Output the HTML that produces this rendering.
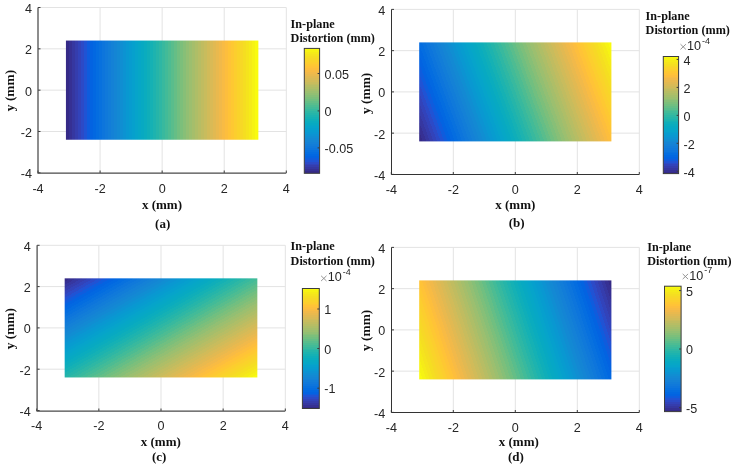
<!DOCTYPE html>
<html><head><meta charset="utf-8"><style>
html,body{margin:0;padding:0;background:#fff;width:735px;height:466px;overflow:hidden}
svg{display:block;filter:blur(0.4px)}
</style></head><body>
<svg width="735" height="466" viewBox="0 0 735 466">
<defs><linearGradient id="ga" gradientUnits="userSpaceOnUse" x1="65.934" y1="90.150" x2="258.366" y2="90.150"><stop offset="0.00000" stop-color="#352a87"/><stop offset="0.01562" stop-color="#352a87"/><stop offset="0.01562" stop-color="#363093"/><stop offset="0.03125" stop-color="#363093"/><stop offset="0.03125" stop-color="#3637a0"/><stop offset="0.04688" stop-color="#3637a0"/><stop offset="0.04688" stop-color="#353dad"/><stop offset="0.06250" stop-color="#353dad"/><stop offset="0.06250" stop-color="#3243ba"/><stop offset="0.07812" stop-color="#3243ba"/><stop offset="0.07812" stop-color="#2c4ac7"/><stop offset="0.09375" stop-color="#2c4ac7"/><stop offset="0.09375" stop-color="#2053d4"/><stop offset="0.10938" stop-color="#2053d4"/><stop offset="0.10938" stop-color="#0f5cdd"/><stop offset="0.12500" stop-color="#0f5cdd"/><stop offset="0.12500" stop-color="#0363e1"/><stop offset="0.14062" stop-color="#0363e1"/><stop offset="0.14062" stop-color="#0268e1"/><stop offset="0.15625" stop-color="#0268e1"/><stop offset="0.15625" stop-color="#046de0"/><stop offset="0.17188" stop-color="#046de0"/><stop offset="0.17188" stop-color="#0871de"/><stop offset="0.18750" stop-color="#0871de"/><stop offset="0.18750" stop-color="#0d75dc"/><stop offset="0.20312" stop-color="#0d75dc"/><stop offset="0.20312" stop-color="#1079da"/><stop offset="0.21875" stop-color="#1079da"/><stop offset="0.21875" stop-color="#127dd8"/><stop offset="0.23438" stop-color="#127dd8"/><stop offset="0.23438" stop-color="#1481d6"/><stop offset="0.25000" stop-color="#1481d6"/><stop offset="0.25000" stop-color="#1485d4"/><stop offset="0.26562" stop-color="#1485d4"/><stop offset="0.26562" stop-color="#1389d3"/><stop offset="0.28125" stop-color="#1389d3"/><stop offset="0.28125" stop-color="#108ed2"/><stop offset="0.29688" stop-color="#108ed2"/><stop offset="0.29688" stop-color="#0c93d2"/><stop offset="0.31250" stop-color="#0c93d2"/><stop offset="0.31250" stop-color="#0998d1"/><stop offset="0.32812" stop-color="#0998d1"/><stop offset="0.32812" stop-color="#079ccf"/><stop offset="0.34375" stop-color="#079ccf"/><stop offset="0.34375" stop-color="#06a0cd"/><stop offset="0.35938" stop-color="#06a0cd"/><stop offset="0.35938" stop-color="#06a4ca"/><stop offset="0.37500" stop-color="#06a4ca"/><stop offset="0.37500" stop-color="#06a7c6"/><stop offset="0.39062" stop-color="#06a7c6"/><stop offset="0.39062" stop-color="#07a9c2"/><stop offset="0.40625" stop-color="#07a9c2"/><stop offset="0.40625" stop-color="#0aacbe"/><stop offset="0.42188" stop-color="#0aacbe"/><stop offset="0.42188" stop-color="#0faeb9"/><stop offset="0.43750" stop-color="#0faeb9"/><stop offset="0.43750" stop-color="#15b1b4"/><stop offset="0.45312" stop-color="#15b1b4"/><stop offset="0.45312" stop-color="#1db3af"/><stop offset="0.46875" stop-color="#1db3af"/><stop offset="0.46875" stop-color="#25b5a9"/><stop offset="0.48438" stop-color="#25b5a9"/><stop offset="0.48438" stop-color="#2eb7a4"/><stop offset="0.50000" stop-color="#2eb7a4"/><stop offset="0.50000" stop-color="#38b99e"/><stop offset="0.51562" stop-color="#38b99e"/><stop offset="0.51562" stop-color="#42bb98"/><stop offset="0.53125" stop-color="#42bb98"/><stop offset="0.53125" stop-color="#4dbc92"/><stop offset="0.54688" stop-color="#4dbc92"/><stop offset="0.54688" stop-color="#59bd8c"/><stop offset="0.56250" stop-color="#59bd8c"/><stop offset="0.56250" stop-color="#65be86"/><stop offset="0.57812" stop-color="#65be86"/><stop offset="0.57812" stop-color="#71bf80"/><stop offset="0.59375" stop-color="#71bf80"/><stop offset="0.59375" stop-color="#7cbf7b"/><stop offset="0.60938" stop-color="#7cbf7b"/><stop offset="0.60938" stop-color="#87bf77"/><stop offset="0.62500" stop-color="#87bf77"/><stop offset="0.62500" stop-color="#92bf73"/><stop offset="0.64062" stop-color="#92bf73"/><stop offset="0.64062" stop-color="#9cbf6f"/><stop offset="0.65625" stop-color="#9cbf6f"/><stop offset="0.65625" stop-color="#a5be6b"/><stop offset="0.67188" stop-color="#a5be6b"/><stop offset="0.67188" stop-color="#aebe67"/><stop offset="0.68750" stop-color="#aebe67"/><stop offset="0.68750" stop-color="#b7bd64"/><stop offset="0.70312" stop-color="#b7bd64"/><stop offset="0.70312" stop-color="#c0bc60"/><stop offset="0.71875" stop-color="#c0bc60"/><stop offset="0.71875" stop-color="#c8bc5d"/><stop offset="0.73438" stop-color="#c8bc5d"/><stop offset="0.73438" stop-color="#d1bb59"/><stop offset="0.75000" stop-color="#d1bb59"/><stop offset="0.75000" stop-color="#d9ba56"/><stop offset="0.76562" stop-color="#d9ba56"/><stop offset="0.76562" stop-color="#e1b952"/><stop offset="0.78125" stop-color="#e1b952"/><stop offset="0.78125" stop-color="#e9b94e"/><stop offset="0.79688" stop-color="#e9b94e"/><stop offset="0.79688" stop-color="#f1b94a"/><stop offset="0.81250" stop-color="#f1b94a"/><stop offset="0.81250" stop-color="#f8bb44"/><stop offset="0.82812" stop-color="#f8bb44"/><stop offset="0.82812" stop-color="#fdbe3d"/><stop offset="0.84375" stop-color="#fdbe3d"/><stop offset="0.84375" stop-color="#ffc337"/><stop offset="0.85938" stop-color="#ffc337"/><stop offset="0.85938" stop-color="#fec832"/><stop offset="0.87500" stop-color="#fec832"/><stop offset="0.87500" stop-color="#fcce2e"/><stop offset="0.89062" stop-color="#fcce2e"/><stop offset="0.89062" stop-color="#fad32a"/><stop offset="0.90625" stop-color="#fad32a"/><stop offset="0.90625" stop-color="#f7d826"/><stop offset="0.92188" stop-color="#f7d826"/><stop offset="0.92188" stop-color="#f5de21"/><stop offset="0.93750" stop-color="#f5de21"/><stop offset="0.93750" stop-color="#f5e41d"/><stop offset="0.95312" stop-color="#f5e41d"/><stop offset="0.95312" stop-color="#f5eb18"/><stop offset="0.96875" stop-color="#f5eb18"/><stop offset="0.96875" stop-color="#f6f313"/><stop offset="0.98438" stop-color="#f6f313"/><stop offset="0.98438" stop-color="#f9fb0e"/><stop offset="1.00000" stop-color="#f9fb0e"/></linearGradient>
<linearGradient id="ca" gradientUnits="userSpaceOnUse" x1="0" y1="173.300" x2="0" y2="48.400"><stop offset="0.00000" stop-color="#352a87"/><stop offset="0.01562" stop-color="#352a87"/><stop offset="0.01562" stop-color="#363093"/><stop offset="0.03125" stop-color="#363093"/><stop offset="0.03125" stop-color="#3637a0"/><stop offset="0.04688" stop-color="#3637a0"/><stop offset="0.04688" stop-color="#353dad"/><stop offset="0.06250" stop-color="#353dad"/><stop offset="0.06250" stop-color="#3243ba"/><stop offset="0.07812" stop-color="#3243ba"/><stop offset="0.07812" stop-color="#2c4ac7"/><stop offset="0.09375" stop-color="#2c4ac7"/><stop offset="0.09375" stop-color="#2053d4"/><stop offset="0.10938" stop-color="#2053d4"/><stop offset="0.10938" stop-color="#0f5cdd"/><stop offset="0.12500" stop-color="#0f5cdd"/><stop offset="0.12500" stop-color="#0363e1"/><stop offset="0.14062" stop-color="#0363e1"/><stop offset="0.14062" stop-color="#0268e1"/><stop offset="0.15625" stop-color="#0268e1"/><stop offset="0.15625" stop-color="#046de0"/><stop offset="0.17188" stop-color="#046de0"/><stop offset="0.17188" stop-color="#0871de"/><stop offset="0.18750" stop-color="#0871de"/><stop offset="0.18750" stop-color="#0d75dc"/><stop offset="0.20312" stop-color="#0d75dc"/><stop offset="0.20312" stop-color="#1079da"/><stop offset="0.21875" stop-color="#1079da"/><stop offset="0.21875" stop-color="#127dd8"/><stop offset="0.23438" stop-color="#127dd8"/><stop offset="0.23438" stop-color="#1481d6"/><stop offset="0.25000" stop-color="#1481d6"/><stop offset="0.25000" stop-color="#1485d4"/><stop offset="0.26562" stop-color="#1485d4"/><stop offset="0.26562" stop-color="#1389d3"/><stop offset="0.28125" stop-color="#1389d3"/><stop offset="0.28125" stop-color="#108ed2"/><stop offset="0.29688" stop-color="#108ed2"/><stop offset="0.29688" stop-color="#0c93d2"/><stop offset="0.31250" stop-color="#0c93d2"/><stop offset="0.31250" stop-color="#0998d1"/><stop offset="0.32812" stop-color="#0998d1"/><stop offset="0.32812" stop-color="#079ccf"/><stop offset="0.34375" stop-color="#079ccf"/><stop offset="0.34375" stop-color="#06a0cd"/><stop offset="0.35938" stop-color="#06a0cd"/><stop offset="0.35938" stop-color="#06a4ca"/><stop offset="0.37500" stop-color="#06a4ca"/><stop offset="0.37500" stop-color="#06a7c6"/><stop offset="0.39062" stop-color="#06a7c6"/><stop offset="0.39062" stop-color="#07a9c2"/><stop offset="0.40625" stop-color="#07a9c2"/><stop offset="0.40625" stop-color="#0aacbe"/><stop offset="0.42188" stop-color="#0aacbe"/><stop offset="0.42188" stop-color="#0faeb9"/><stop offset="0.43750" stop-color="#0faeb9"/><stop offset="0.43750" stop-color="#15b1b4"/><stop offset="0.45312" stop-color="#15b1b4"/><stop offset="0.45312" stop-color="#1db3af"/><stop offset="0.46875" stop-color="#1db3af"/><stop offset="0.46875" stop-color="#25b5a9"/><stop offset="0.48438" stop-color="#25b5a9"/><stop offset="0.48438" stop-color="#2eb7a4"/><stop offset="0.50000" stop-color="#2eb7a4"/><stop offset="0.50000" stop-color="#38b99e"/><stop offset="0.51562" stop-color="#38b99e"/><stop offset="0.51562" stop-color="#42bb98"/><stop offset="0.53125" stop-color="#42bb98"/><stop offset="0.53125" stop-color="#4dbc92"/><stop offset="0.54688" stop-color="#4dbc92"/><stop offset="0.54688" stop-color="#59bd8c"/><stop offset="0.56250" stop-color="#59bd8c"/><stop offset="0.56250" stop-color="#65be86"/><stop offset="0.57812" stop-color="#65be86"/><stop offset="0.57812" stop-color="#71bf80"/><stop offset="0.59375" stop-color="#71bf80"/><stop offset="0.59375" stop-color="#7cbf7b"/><stop offset="0.60938" stop-color="#7cbf7b"/><stop offset="0.60938" stop-color="#87bf77"/><stop offset="0.62500" stop-color="#87bf77"/><stop offset="0.62500" stop-color="#92bf73"/><stop offset="0.64062" stop-color="#92bf73"/><stop offset="0.64062" stop-color="#9cbf6f"/><stop offset="0.65625" stop-color="#9cbf6f"/><stop offset="0.65625" stop-color="#a5be6b"/><stop offset="0.67188" stop-color="#a5be6b"/><stop offset="0.67188" stop-color="#aebe67"/><stop offset="0.68750" stop-color="#aebe67"/><stop offset="0.68750" stop-color="#b7bd64"/><stop offset="0.70312" stop-color="#b7bd64"/><stop offset="0.70312" stop-color="#c0bc60"/><stop offset="0.71875" stop-color="#c0bc60"/><stop offset="0.71875" stop-color="#c8bc5d"/><stop offset="0.73438" stop-color="#c8bc5d"/><stop offset="0.73438" stop-color="#d1bb59"/><stop offset="0.75000" stop-color="#d1bb59"/><stop offset="0.75000" stop-color="#d9ba56"/><stop offset="0.76562" stop-color="#d9ba56"/><stop offset="0.76562" stop-color="#e1b952"/><stop offset="0.78125" stop-color="#e1b952"/><stop offset="0.78125" stop-color="#e9b94e"/><stop offset="0.79688" stop-color="#e9b94e"/><stop offset="0.79688" stop-color="#f1b94a"/><stop offset="0.81250" stop-color="#f1b94a"/><stop offset="0.81250" stop-color="#f8bb44"/><stop offset="0.82812" stop-color="#f8bb44"/><stop offset="0.82812" stop-color="#fdbe3d"/><stop offset="0.84375" stop-color="#fdbe3d"/><stop offset="0.84375" stop-color="#ffc337"/><stop offset="0.85938" stop-color="#ffc337"/><stop offset="0.85938" stop-color="#fec832"/><stop offset="0.87500" stop-color="#fec832"/><stop offset="0.87500" stop-color="#fcce2e"/><stop offset="0.89062" stop-color="#fcce2e"/><stop offset="0.89062" stop-color="#fad32a"/><stop offset="0.90625" stop-color="#fad32a"/><stop offset="0.90625" stop-color="#f7d826"/><stop offset="0.92188" stop-color="#f7d826"/><stop offset="0.92188" stop-color="#f5de21"/><stop offset="0.93750" stop-color="#f5de21"/><stop offset="0.93750" stop-color="#f5e41d"/><stop offset="0.95312" stop-color="#f5e41d"/><stop offset="0.95312" stop-color="#f5eb18"/><stop offset="0.96875" stop-color="#f5eb18"/><stop offset="0.96875" stop-color="#f6f313"/><stop offset="0.98438" stop-color="#f6f313"/><stop offset="0.98438" stop-color="#f9fb0e"/><stop offset="1.00000" stop-color="#f9fb0e"/></linearGradient>
<linearGradient id="gb" gradientUnits="userSpaceOnUse" x1="414.624" y1="128.973" x2="615.976" y2="54.827"><stop offset="0.00000" stop-color="#352a87"/><stop offset="0.01562" stop-color="#352a87"/><stop offset="0.01562" stop-color="#363093"/><stop offset="0.03125" stop-color="#363093"/><stop offset="0.03125" stop-color="#3637a0"/><stop offset="0.04688" stop-color="#3637a0"/><stop offset="0.04688" stop-color="#353dad"/><stop offset="0.06250" stop-color="#353dad"/><stop offset="0.06250" stop-color="#3243ba"/><stop offset="0.07812" stop-color="#3243ba"/><stop offset="0.07812" stop-color="#2c4ac7"/><stop offset="0.09375" stop-color="#2c4ac7"/><stop offset="0.09375" stop-color="#2053d4"/><stop offset="0.10938" stop-color="#2053d4"/><stop offset="0.10938" stop-color="#0f5cdd"/><stop offset="0.12500" stop-color="#0f5cdd"/><stop offset="0.12500" stop-color="#0363e1"/><stop offset="0.14062" stop-color="#0363e1"/><stop offset="0.14062" stop-color="#0268e1"/><stop offset="0.15625" stop-color="#0268e1"/><stop offset="0.15625" stop-color="#046de0"/><stop offset="0.17188" stop-color="#046de0"/><stop offset="0.17188" stop-color="#0871de"/><stop offset="0.18750" stop-color="#0871de"/><stop offset="0.18750" stop-color="#0d75dc"/><stop offset="0.20312" stop-color="#0d75dc"/><stop offset="0.20312" stop-color="#1079da"/><stop offset="0.21875" stop-color="#1079da"/><stop offset="0.21875" stop-color="#127dd8"/><stop offset="0.23438" stop-color="#127dd8"/><stop offset="0.23438" stop-color="#1481d6"/><stop offset="0.25000" stop-color="#1481d6"/><stop offset="0.25000" stop-color="#1485d4"/><stop offset="0.26562" stop-color="#1485d4"/><stop offset="0.26562" stop-color="#1389d3"/><stop offset="0.28125" stop-color="#1389d3"/><stop offset="0.28125" stop-color="#108ed2"/><stop offset="0.29688" stop-color="#108ed2"/><stop offset="0.29688" stop-color="#0c93d2"/><stop offset="0.31250" stop-color="#0c93d2"/><stop offset="0.31250" stop-color="#0998d1"/><stop offset="0.32812" stop-color="#0998d1"/><stop offset="0.32812" stop-color="#079ccf"/><stop offset="0.34375" stop-color="#079ccf"/><stop offset="0.34375" stop-color="#06a0cd"/><stop offset="0.35938" stop-color="#06a0cd"/><stop offset="0.35938" stop-color="#06a4ca"/><stop offset="0.37500" stop-color="#06a4ca"/><stop offset="0.37500" stop-color="#06a7c6"/><stop offset="0.39062" stop-color="#06a7c6"/><stop offset="0.39062" stop-color="#07a9c2"/><stop offset="0.40625" stop-color="#07a9c2"/><stop offset="0.40625" stop-color="#0aacbe"/><stop offset="0.42188" stop-color="#0aacbe"/><stop offset="0.42188" stop-color="#0faeb9"/><stop offset="0.43750" stop-color="#0faeb9"/><stop offset="0.43750" stop-color="#15b1b4"/><stop offset="0.45312" stop-color="#15b1b4"/><stop offset="0.45312" stop-color="#1db3af"/><stop offset="0.46875" stop-color="#1db3af"/><stop offset="0.46875" stop-color="#25b5a9"/><stop offset="0.48438" stop-color="#25b5a9"/><stop offset="0.48438" stop-color="#2eb7a4"/><stop offset="0.50000" stop-color="#2eb7a4"/><stop offset="0.50000" stop-color="#38b99e"/><stop offset="0.51562" stop-color="#38b99e"/><stop offset="0.51562" stop-color="#42bb98"/><stop offset="0.53125" stop-color="#42bb98"/><stop offset="0.53125" stop-color="#4dbc92"/><stop offset="0.54688" stop-color="#4dbc92"/><stop offset="0.54688" stop-color="#59bd8c"/><stop offset="0.56250" stop-color="#59bd8c"/><stop offset="0.56250" stop-color="#65be86"/><stop offset="0.57812" stop-color="#65be86"/><stop offset="0.57812" stop-color="#71bf80"/><stop offset="0.59375" stop-color="#71bf80"/><stop offset="0.59375" stop-color="#7cbf7b"/><stop offset="0.60938" stop-color="#7cbf7b"/><stop offset="0.60938" stop-color="#87bf77"/><stop offset="0.62500" stop-color="#87bf77"/><stop offset="0.62500" stop-color="#92bf73"/><stop offset="0.64062" stop-color="#92bf73"/><stop offset="0.64062" stop-color="#9cbf6f"/><stop offset="0.65625" stop-color="#9cbf6f"/><stop offset="0.65625" stop-color="#a5be6b"/><stop offset="0.67188" stop-color="#a5be6b"/><stop offset="0.67188" stop-color="#aebe67"/><stop offset="0.68750" stop-color="#aebe67"/><stop offset="0.68750" stop-color="#b7bd64"/><stop offset="0.70312" stop-color="#b7bd64"/><stop offset="0.70312" stop-color="#c0bc60"/><stop offset="0.71875" stop-color="#c0bc60"/><stop offset="0.71875" stop-color="#c8bc5d"/><stop offset="0.73438" stop-color="#c8bc5d"/><stop offset="0.73438" stop-color="#d1bb59"/><stop offset="0.75000" stop-color="#d1bb59"/><stop offset="0.75000" stop-color="#d9ba56"/><stop offset="0.76562" stop-color="#d9ba56"/><stop offset="0.76562" stop-color="#e1b952"/><stop offset="0.78125" stop-color="#e1b952"/><stop offset="0.78125" stop-color="#e9b94e"/><stop offset="0.79688" stop-color="#e9b94e"/><stop offset="0.79688" stop-color="#f1b94a"/><stop offset="0.81250" stop-color="#f1b94a"/><stop offset="0.81250" stop-color="#f8bb44"/><stop offset="0.82812" stop-color="#f8bb44"/><stop offset="0.82812" stop-color="#fdbe3d"/><stop offset="0.84375" stop-color="#fdbe3d"/><stop offset="0.84375" stop-color="#ffc337"/><stop offset="0.85938" stop-color="#ffc337"/><stop offset="0.85938" stop-color="#fec832"/><stop offset="0.87500" stop-color="#fec832"/><stop offset="0.87500" stop-color="#fcce2e"/><stop offset="0.89062" stop-color="#fcce2e"/><stop offset="0.89062" stop-color="#fad32a"/><stop offset="0.90625" stop-color="#fad32a"/><stop offset="0.90625" stop-color="#f7d826"/><stop offset="0.92188" stop-color="#f7d826"/><stop offset="0.92188" stop-color="#f5de21"/><stop offset="0.93750" stop-color="#f5de21"/><stop offset="0.93750" stop-color="#f5e41d"/><stop offset="0.95312" stop-color="#f5e41d"/><stop offset="0.95312" stop-color="#f5eb18"/><stop offset="0.96875" stop-color="#f5eb18"/><stop offset="0.96875" stop-color="#f6f313"/><stop offset="0.98438" stop-color="#f6f313"/><stop offset="0.98438" stop-color="#f9fb0e"/><stop offset="1.00000" stop-color="#f9fb0e"/></linearGradient>
<linearGradient id="cb" gradientUnits="userSpaceOnUse" x1="0" y1="173.600" x2="0" y2="56.500"><stop offset="0.00000" stop-color="#352a87"/><stop offset="0.01562" stop-color="#352a87"/><stop offset="0.01562" stop-color="#363093"/><stop offset="0.03125" stop-color="#363093"/><stop offset="0.03125" stop-color="#3637a0"/><stop offset="0.04688" stop-color="#3637a0"/><stop offset="0.04688" stop-color="#353dad"/><stop offset="0.06250" stop-color="#353dad"/><stop offset="0.06250" stop-color="#3243ba"/><stop offset="0.07812" stop-color="#3243ba"/><stop offset="0.07812" stop-color="#2c4ac7"/><stop offset="0.09375" stop-color="#2c4ac7"/><stop offset="0.09375" stop-color="#2053d4"/><stop offset="0.10938" stop-color="#2053d4"/><stop offset="0.10938" stop-color="#0f5cdd"/><stop offset="0.12500" stop-color="#0f5cdd"/><stop offset="0.12500" stop-color="#0363e1"/><stop offset="0.14062" stop-color="#0363e1"/><stop offset="0.14062" stop-color="#0268e1"/><stop offset="0.15625" stop-color="#0268e1"/><stop offset="0.15625" stop-color="#046de0"/><stop offset="0.17188" stop-color="#046de0"/><stop offset="0.17188" stop-color="#0871de"/><stop offset="0.18750" stop-color="#0871de"/><stop offset="0.18750" stop-color="#0d75dc"/><stop offset="0.20312" stop-color="#0d75dc"/><stop offset="0.20312" stop-color="#1079da"/><stop offset="0.21875" stop-color="#1079da"/><stop offset="0.21875" stop-color="#127dd8"/><stop offset="0.23438" stop-color="#127dd8"/><stop offset="0.23438" stop-color="#1481d6"/><stop offset="0.25000" stop-color="#1481d6"/><stop offset="0.25000" stop-color="#1485d4"/><stop offset="0.26562" stop-color="#1485d4"/><stop offset="0.26562" stop-color="#1389d3"/><stop offset="0.28125" stop-color="#1389d3"/><stop offset="0.28125" stop-color="#108ed2"/><stop offset="0.29688" stop-color="#108ed2"/><stop offset="0.29688" stop-color="#0c93d2"/><stop offset="0.31250" stop-color="#0c93d2"/><stop offset="0.31250" stop-color="#0998d1"/><stop offset="0.32812" stop-color="#0998d1"/><stop offset="0.32812" stop-color="#079ccf"/><stop offset="0.34375" stop-color="#079ccf"/><stop offset="0.34375" stop-color="#06a0cd"/><stop offset="0.35938" stop-color="#06a0cd"/><stop offset="0.35938" stop-color="#06a4ca"/><stop offset="0.37500" stop-color="#06a4ca"/><stop offset="0.37500" stop-color="#06a7c6"/><stop offset="0.39062" stop-color="#06a7c6"/><stop offset="0.39062" stop-color="#07a9c2"/><stop offset="0.40625" stop-color="#07a9c2"/><stop offset="0.40625" stop-color="#0aacbe"/><stop offset="0.42188" stop-color="#0aacbe"/><stop offset="0.42188" stop-color="#0faeb9"/><stop offset="0.43750" stop-color="#0faeb9"/><stop offset="0.43750" stop-color="#15b1b4"/><stop offset="0.45312" stop-color="#15b1b4"/><stop offset="0.45312" stop-color="#1db3af"/><stop offset="0.46875" stop-color="#1db3af"/><stop offset="0.46875" stop-color="#25b5a9"/><stop offset="0.48438" stop-color="#25b5a9"/><stop offset="0.48438" stop-color="#2eb7a4"/><stop offset="0.50000" stop-color="#2eb7a4"/><stop offset="0.50000" stop-color="#38b99e"/><stop offset="0.51562" stop-color="#38b99e"/><stop offset="0.51562" stop-color="#42bb98"/><stop offset="0.53125" stop-color="#42bb98"/><stop offset="0.53125" stop-color="#4dbc92"/><stop offset="0.54688" stop-color="#4dbc92"/><stop offset="0.54688" stop-color="#59bd8c"/><stop offset="0.56250" stop-color="#59bd8c"/><stop offset="0.56250" stop-color="#65be86"/><stop offset="0.57812" stop-color="#65be86"/><stop offset="0.57812" stop-color="#71bf80"/><stop offset="0.59375" stop-color="#71bf80"/><stop offset="0.59375" stop-color="#7cbf7b"/><stop offset="0.60938" stop-color="#7cbf7b"/><stop offset="0.60938" stop-color="#87bf77"/><stop offset="0.62500" stop-color="#87bf77"/><stop offset="0.62500" stop-color="#92bf73"/><stop offset="0.64062" stop-color="#92bf73"/><stop offset="0.64062" stop-color="#9cbf6f"/><stop offset="0.65625" stop-color="#9cbf6f"/><stop offset="0.65625" stop-color="#a5be6b"/><stop offset="0.67188" stop-color="#a5be6b"/><stop offset="0.67188" stop-color="#aebe67"/><stop offset="0.68750" stop-color="#aebe67"/><stop offset="0.68750" stop-color="#b7bd64"/><stop offset="0.70312" stop-color="#b7bd64"/><stop offset="0.70312" stop-color="#c0bc60"/><stop offset="0.71875" stop-color="#c0bc60"/><stop offset="0.71875" stop-color="#c8bc5d"/><stop offset="0.73438" stop-color="#c8bc5d"/><stop offset="0.73438" stop-color="#d1bb59"/><stop offset="0.75000" stop-color="#d1bb59"/><stop offset="0.75000" stop-color="#d9ba56"/><stop offset="0.76562" stop-color="#d9ba56"/><stop offset="0.76562" stop-color="#e1b952"/><stop offset="0.78125" stop-color="#e1b952"/><stop offset="0.78125" stop-color="#e9b94e"/><stop offset="0.79688" stop-color="#e9b94e"/><stop offset="0.79688" stop-color="#f1b94a"/><stop offset="0.81250" stop-color="#f1b94a"/><stop offset="0.81250" stop-color="#f8bb44"/><stop offset="0.82812" stop-color="#f8bb44"/><stop offset="0.82812" stop-color="#fdbe3d"/><stop offset="0.84375" stop-color="#fdbe3d"/><stop offset="0.84375" stop-color="#ffc337"/><stop offset="0.85938" stop-color="#ffc337"/><stop offset="0.85938" stop-color="#fec832"/><stop offset="0.87500" stop-color="#fec832"/><stop offset="0.87500" stop-color="#fcce2e"/><stop offset="0.89062" stop-color="#fcce2e"/><stop offset="0.89062" stop-color="#fad32a"/><stop offset="0.90625" stop-color="#fad32a"/><stop offset="0.90625" stop-color="#f7d826"/><stop offset="0.92188" stop-color="#f7d826"/><stop offset="0.92188" stop-color="#f5de21"/><stop offset="0.93750" stop-color="#f5de21"/><stop offset="0.93750" stop-color="#f5e41d"/><stop offset="0.95312" stop-color="#f5e41d"/><stop offset="0.95312" stop-color="#f5eb18"/><stop offset="0.96875" stop-color="#f5eb18"/><stop offset="0.96875" stop-color="#f6f313"/><stop offset="0.98438" stop-color="#f6f313"/><stop offset="0.98438" stop-color="#f9fb0e"/><stop offset="1.00000" stop-color="#f9fb0e"/></linearGradient>
<linearGradient id="gc" gradientUnits="userSpaceOnUse" x1="116.329" y1="249.066" x2="205.671" y2="406.734"><stop offset="0.00000" stop-color="#352a87"/><stop offset="0.01562" stop-color="#352a87"/><stop offset="0.01562" stop-color="#363093"/><stop offset="0.03125" stop-color="#363093"/><stop offset="0.03125" stop-color="#3637a0"/><stop offset="0.04688" stop-color="#3637a0"/><stop offset="0.04688" stop-color="#353dad"/><stop offset="0.06250" stop-color="#353dad"/><stop offset="0.06250" stop-color="#3243ba"/><stop offset="0.07812" stop-color="#3243ba"/><stop offset="0.07812" stop-color="#2c4ac7"/><stop offset="0.09375" stop-color="#2c4ac7"/><stop offset="0.09375" stop-color="#2053d4"/><stop offset="0.10938" stop-color="#2053d4"/><stop offset="0.10938" stop-color="#0f5cdd"/><stop offset="0.12500" stop-color="#0f5cdd"/><stop offset="0.12500" stop-color="#0363e1"/><stop offset="0.14062" stop-color="#0363e1"/><stop offset="0.14062" stop-color="#0268e1"/><stop offset="0.15625" stop-color="#0268e1"/><stop offset="0.15625" stop-color="#046de0"/><stop offset="0.17188" stop-color="#046de0"/><stop offset="0.17188" stop-color="#0871de"/><stop offset="0.18750" stop-color="#0871de"/><stop offset="0.18750" stop-color="#0d75dc"/><stop offset="0.20312" stop-color="#0d75dc"/><stop offset="0.20312" stop-color="#1079da"/><stop offset="0.21875" stop-color="#1079da"/><stop offset="0.21875" stop-color="#127dd8"/><stop offset="0.23438" stop-color="#127dd8"/><stop offset="0.23438" stop-color="#1481d6"/><stop offset="0.25000" stop-color="#1481d6"/><stop offset="0.25000" stop-color="#1485d4"/><stop offset="0.26562" stop-color="#1485d4"/><stop offset="0.26562" stop-color="#1389d3"/><stop offset="0.28125" stop-color="#1389d3"/><stop offset="0.28125" stop-color="#108ed2"/><stop offset="0.29688" stop-color="#108ed2"/><stop offset="0.29688" stop-color="#0c93d2"/><stop offset="0.31250" stop-color="#0c93d2"/><stop offset="0.31250" stop-color="#0998d1"/><stop offset="0.32812" stop-color="#0998d1"/><stop offset="0.32812" stop-color="#079ccf"/><stop offset="0.34375" stop-color="#079ccf"/><stop offset="0.34375" stop-color="#06a0cd"/><stop offset="0.35938" stop-color="#06a0cd"/><stop offset="0.35938" stop-color="#06a4ca"/><stop offset="0.37500" stop-color="#06a4ca"/><stop offset="0.37500" stop-color="#06a7c6"/><stop offset="0.39062" stop-color="#06a7c6"/><stop offset="0.39062" stop-color="#07a9c2"/><stop offset="0.40625" stop-color="#07a9c2"/><stop offset="0.40625" stop-color="#0aacbe"/><stop offset="0.42188" stop-color="#0aacbe"/><stop offset="0.42188" stop-color="#0faeb9"/><stop offset="0.43750" stop-color="#0faeb9"/><stop offset="0.43750" stop-color="#15b1b4"/><stop offset="0.45312" stop-color="#15b1b4"/><stop offset="0.45312" stop-color="#1db3af"/><stop offset="0.46875" stop-color="#1db3af"/><stop offset="0.46875" stop-color="#25b5a9"/><stop offset="0.48438" stop-color="#25b5a9"/><stop offset="0.48438" stop-color="#2eb7a4"/><stop offset="0.50000" stop-color="#2eb7a4"/><stop offset="0.50000" stop-color="#38b99e"/><stop offset="0.51562" stop-color="#38b99e"/><stop offset="0.51562" stop-color="#42bb98"/><stop offset="0.53125" stop-color="#42bb98"/><stop offset="0.53125" stop-color="#4dbc92"/><stop offset="0.54688" stop-color="#4dbc92"/><stop offset="0.54688" stop-color="#59bd8c"/><stop offset="0.56250" stop-color="#59bd8c"/><stop offset="0.56250" stop-color="#65be86"/><stop offset="0.57812" stop-color="#65be86"/><stop offset="0.57812" stop-color="#71bf80"/><stop offset="0.59375" stop-color="#71bf80"/><stop offset="0.59375" stop-color="#7cbf7b"/><stop offset="0.60938" stop-color="#7cbf7b"/><stop offset="0.60938" stop-color="#87bf77"/><stop offset="0.62500" stop-color="#87bf77"/><stop offset="0.62500" stop-color="#92bf73"/><stop offset="0.64062" stop-color="#92bf73"/><stop offset="0.64062" stop-color="#9cbf6f"/><stop offset="0.65625" stop-color="#9cbf6f"/><stop offset="0.65625" stop-color="#a5be6b"/><stop offset="0.67188" stop-color="#a5be6b"/><stop offset="0.67188" stop-color="#aebe67"/><stop offset="0.68750" stop-color="#aebe67"/><stop offset="0.68750" stop-color="#b7bd64"/><stop offset="0.70312" stop-color="#b7bd64"/><stop offset="0.70312" stop-color="#c0bc60"/><stop offset="0.71875" stop-color="#c0bc60"/><stop offset="0.71875" stop-color="#c8bc5d"/><stop offset="0.73438" stop-color="#c8bc5d"/><stop offset="0.73438" stop-color="#d1bb59"/><stop offset="0.75000" stop-color="#d1bb59"/><stop offset="0.75000" stop-color="#d9ba56"/><stop offset="0.76562" stop-color="#d9ba56"/><stop offset="0.76562" stop-color="#e1b952"/><stop offset="0.78125" stop-color="#e1b952"/><stop offset="0.78125" stop-color="#e9b94e"/><stop offset="0.79688" stop-color="#e9b94e"/><stop offset="0.79688" stop-color="#f1b94a"/><stop offset="0.81250" stop-color="#f1b94a"/><stop offset="0.81250" stop-color="#f8bb44"/><stop offset="0.82812" stop-color="#f8bb44"/><stop offset="0.82812" stop-color="#fdbe3d"/><stop offset="0.84375" stop-color="#fdbe3d"/><stop offset="0.84375" stop-color="#ffc337"/><stop offset="0.85938" stop-color="#ffc337"/><stop offset="0.85938" stop-color="#fec832"/><stop offset="0.87500" stop-color="#fec832"/><stop offset="0.87500" stop-color="#fcce2e"/><stop offset="0.89062" stop-color="#fcce2e"/><stop offset="0.89062" stop-color="#fad32a"/><stop offset="0.90625" stop-color="#fad32a"/><stop offset="0.90625" stop-color="#f7d826"/><stop offset="0.92188" stop-color="#f7d826"/><stop offset="0.92188" stop-color="#f5de21"/><stop offset="0.93750" stop-color="#f5de21"/><stop offset="0.93750" stop-color="#f5e41d"/><stop offset="0.95312" stop-color="#f5e41d"/><stop offset="0.95312" stop-color="#f5eb18"/><stop offset="0.96875" stop-color="#f5eb18"/><stop offset="0.96875" stop-color="#f6f313"/><stop offset="0.98438" stop-color="#f6f313"/><stop offset="0.98438" stop-color="#f9fb0e"/><stop offset="1.00000" stop-color="#f9fb0e"/></linearGradient>
<linearGradient id="cc" gradientUnits="userSpaceOnUse" x1="0" y1="408.500" x2="0" y2="288.500"><stop offset="0.00000" stop-color="#352a87"/><stop offset="0.01562" stop-color="#352a87"/><stop offset="0.01562" stop-color="#363093"/><stop offset="0.03125" stop-color="#363093"/><stop offset="0.03125" stop-color="#3637a0"/><stop offset="0.04688" stop-color="#3637a0"/><stop offset="0.04688" stop-color="#353dad"/><stop offset="0.06250" stop-color="#353dad"/><stop offset="0.06250" stop-color="#3243ba"/><stop offset="0.07812" stop-color="#3243ba"/><stop offset="0.07812" stop-color="#2c4ac7"/><stop offset="0.09375" stop-color="#2c4ac7"/><stop offset="0.09375" stop-color="#2053d4"/><stop offset="0.10938" stop-color="#2053d4"/><stop offset="0.10938" stop-color="#0f5cdd"/><stop offset="0.12500" stop-color="#0f5cdd"/><stop offset="0.12500" stop-color="#0363e1"/><stop offset="0.14062" stop-color="#0363e1"/><stop offset="0.14062" stop-color="#0268e1"/><stop offset="0.15625" stop-color="#0268e1"/><stop offset="0.15625" stop-color="#046de0"/><stop offset="0.17188" stop-color="#046de0"/><stop offset="0.17188" stop-color="#0871de"/><stop offset="0.18750" stop-color="#0871de"/><stop offset="0.18750" stop-color="#0d75dc"/><stop offset="0.20312" stop-color="#0d75dc"/><stop offset="0.20312" stop-color="#1079da"/><stop offset="0.21875" stop-color="#1079da"/><stop offset="0.21875" stop-color="#127dd8"/><stop offset="0.23438" stop-color="#127dd8"/><stop offset="0.23438" stop-color="#1481d6"/><stop offset="0.25000" stop-color="#1481d6"/><stop offset="0.25000" stop-color="#1485d4"/><stop offset="0.26562" stop-color="#1485d4"/><stop offset="0.26562" stop-color="#1389d3"/><stop offset="0.28125" stop-color="#1389d3"/><stop offset="0.28125" stop-color="#108ed2"/><stop offset="0.29688" stop-color="#108ed2"/><stop offset="0.29688" stop-color="#0c93d2"/><stop offset="0.31250" stop-color="#0c93d2"/><stop offset="0.31250" stop-color="#0998d1"/><stop offset="0.32812" stop-color="#0998d1"/><stop offset="0.32812" stop-color="#079ccf"/><stop offset="0.34375" stop-color="#079ccf"/><stop offset="0.34375" stop-color="#06a0cd"/><stop offset="0.35938" stop-color="#06a0cd"/><stop offset="0.35938" stop-color="#06a4ca"/><stop offset="0.37500" stop-color="#06a4ca"/><stop offset="0.37500" stop-color="#06a7c6"/><stop offset="0.39062" stop-color="#06a7c6"/><stop offset="0.39062" stop-color="#07a9c2"/><stop offset="0.40625" stop-color="#07a9c2"/><stop offset="0.40625" stop-color="#0aacbe"/><stop offset="0.42188" stop-color="#0aacbe"/><stop offset="0.42188" stop-color="#0faeb9"/><stop offset="0.43750" stop-color="#0faeb9"/><stop offset="0.43750" stop-color="#15b1b4"/><stop offset="0.45312" stop-color="#15b1b4"/><stop offset="0.45312" stop-color="#1db3af"/><stop offset="0.46875" stop-color="#1db3af"/><stop offset="0.46875" stop-color="#25b5a9"/><stop offset="0.48438" stop-color="#25b5a9"/><stop offset="0.48438" stop-color="#2eb7a4"/><stop offset="0.50000" stop-color="#2eb7a4"/><stop offset="0.50000" stop-color="#38b99e"/><stop offset="0.51562" stop-color="#38b99e"/><stop offset="0.51562" stop-color="#42bb98"/><stop offset="0.53125" stop-color="#42bb98"/><stop offset="0.53125" stop-color="#4dbc92"/><stop offset="0.54688" stop-color="#4dbc92"/><stop offset="0.54688" stop-color="#59bd8c"/><stop offset="0.56250" stop-color="#59bd8c"/><stop offset="0.56250" stop-color="#65be86"/><stop offset="0.57812" stop-color="#65be86"/><stop offset="0.57812" stop-color="#71bf80"/><stop offset="0.59375" stop-color="#71bf80"/><stop offset="0.59375" stop-color="#7cbf7b"/><stop offset="0.60938" stop-color="#7cbf7b"/><stop offset="0.60938" stop-color="#87bf77"/><stop offset="0.62500" stop-color="#87bf77"/><stop offset="0.62500" stop-color="#92bf73"/><stop offset="0.64062" stop-color="#92bf73"/><stop offset="0.64062" stop-color="#9cbf6f"/><stop offset="0.65625" stop-color="#9cbf6f"/><stop offset="0.65625" stop-color="#a5be6b"/><stop offset="0.67188" stop-color="#a5be6b"/><stop offset="0.67188" stop-color="#aebe67"/><stop offset="0.68750" stop-color="#aebe67"/><stop offset="0.68750" stop-color="#b7bd64"/><stop offset="0.70312" stop-color="#b7bd64"/><stop offset="0.70312" stop-color="#c0bc60"/><stop offset="0.71875" stop-color="#c0bc60"/><stop offset="0.71875" stop-color="#c8bc5d"/><stop offset="0.73438" stop-color="#c8bc5d"/><stop offset="0.73438" stop-color="#d1bb59"/><stop offset="0.75000" stop-color="#d1bb59"/><stop offset="0.75000" stop-color="#d9ba56"/><stop offset="0.76562" stop-color="#d9ba56"/><stop offset="0.76562" stop-color="#e1b952"/><stop offset="0.78125" stop-color="#e1b952"/><stop offset="0.78125" stop-color="#e9b94e"/><stop offset="0.79688" stop-color="#e9b94e"/><stop offset="0.79688" stop-color="#f1b94a"/><stop offset="0.81250" stop-color="#f1b94a"/><stop offset="0.81250" stop-color="#f8bb44"/><stop offset="0.82812" stop-color="#f8bb44"/><stop offset="0.82812" stop-color="#fdbe3d"/><stop offset="0.84375" stop-color="#fdbe3d"/><stop offset="0.84375" stop-color="#ffc337"/><stop offset="0.85938" stop-color="#ffc337"/><stop offset="0.85938" stop-color="#fec832"/><stop offset="0.87500" stop-color="#fec832"/><stop offset="0.87500" stop-color="#fcce2e"/><stop offset="0.89062" stop-color="#fcce2e"/><stop offset="0.89062" stop-color="#fad32a"/><stop offset="0.90625" stop-color="#fad32a"/><stop offset="0.90625" stop-color="#f7d826"/><stop offset="0.92188" stop-color="#f7d826"/><stop offset="0.92188" stop-color="#f5de21"/><stop offset="0.93750" stop-color="#f5de21"/><stop offset="0.93750" stop-color="#f5e41d"/><stop offset="0.95312" stop-color="#f5e41d"/><stop offset="0.95312" stop-color="#f5eb18"/><stop offset="0.96875" stop-color="#f5eb18"/><stop offset="0.96875" stop-color="#f6f313"/><stop offset="0.98438" stop-color="#f6f313"/><stop offset="0.98438" stop-color="#f9fb0e"/><stop offset="1.00000" stop-color="#f9fb0e"/></linearGradient>
<linearGradient id="gd" gradientUnits="userSpaceOnUse" x1="616.683" y1="296.376" x2="413.917" y2="363.424"><stop offset="0.00000" stop-color="#352a87"/><stop offset="0.01562" stop-color="#352a87"/><stop offset="0.01562" stop-color="#363093"/><stop offset="0.03125" stop-color="#363093"/><stop offset="0.03125" stop-color="#3637a0"/><stop offset="0.04688" stop-color="#3637a0"/><stop offset="0.04688" stop-color="#353dad"/><stop offset="0.06250" stop-color="#353dad"/><stop offset="0.06250" stop-color="#3243ba"/><stop offset="0.07812" stop-color="#3243ba"/><stop offset="0.07812" stop-color="#2c4ac7"/><stop offset="0.09375" stop-color="#2c4ac7"/><stop offset="0.09375" stop-color="#2053d4"/><stop offset="0.10938" stop-color="#2053d4"/><stop offset="0.10938" stop-color="#0f5cdd"/><stop offset="0.12500" stop-color="#0f5cdd"/><stop offset="0.12500" stop-color="#0363e1"/><stop offset="0.14062" stop-color="#0363e1"/><stop offset="0.14062" stop-color="#0268e1"/><stop offset="0.15625" stop-color="#0268e1"/><stop offset="0.15625" stop-color="#046de0"/><stop offset="0.17188" stop-color="#046de0"/><stop offset="0.17188" stop-color="#0871de"/><stop offset="0.18750" stop-color="#0871de"/><stop offset="0.18750" stop-color="#0d75dc"/><stop offset="0.20312" stop-color="#0d75dc"/><stop offset="0.20312" stop-color="#1079da"/><stop offset="0.21875" stop-color="#1079da"/><stop offset="0.21875" stop-color="#127dd8"/><stop offset="0.23438" stop-color="#127dd8"/><stop offset="0.23438" stop-color="#1481d6"/><stop offset="0.25000" stop-color="#1481d6"/><stop offset="0.25000" stop-color="#1485d4"/><stop offset="0.26562" stop-color="#1485d4"/><stop offset="0.26562" stop-color="#1389d3"/><stop offset="0.28125" stop-color="#1389d3"/><stop offset="0.28125" stop-color="#108ed2"/><stop offset="0.29688" stop-color="#108ed2"/><stop offset="0.29688" stop-color="#0c93d2"/><stop offset="0.31250" stop-color="#0c93d2"/><stop offset="0.31250" stop-color="#0998d1"/><stop offset="0.32812" stop-color="#0998d1"/><stop offset="0.32812" stop-color="#079ccf"/><stop offset="0.34375" stop-color="#079ccf"/><stop offset="0.34375" stop-color="#06a0cd"/><stop offset="0.35938" stop-color="#06a0cd"/><stop offset="0.35938" stop-color="#06a4ca"/><stop offset="0.37500" stop-color="#06a4ca"/><stop offset="0.37500" stop-color="#06a7c6"/><stop offset="0.39062" stop-color="#06a7c6"/><stop offset="0.39062" stop-color="#07a9c2"/><stop offset="0.40625" stop-color="#07a9c2"/><stop offset="0.40625" stop-color="#0aacbe"/><stop offset="0.42188" stop-color="#0aacbe"/><stop offset="0.42188" stop-color="#0faeb9"/><stop offset="0.43750" stop-color="#0faeb9"/><stop offset="0.43750" stop-color="#15b1b4"/><stop offset="0.45312" stop-color="#15b1b4"/><stop offset="0.45312" stop-color="#1db3af"/><stop offset="0.46875" stop-color="#1db3af"/><stop offset="0.46875" stop-color="#25b5a9"/><stop offset="0.48438" stop-color="#25b5a9"/><stop offset="0.48438" stop-color="#2eb7a4"/><stop offset="0.50000" stop-color="#2eb7a4"/><stop offset="0.50000" stop-color="#38b99e"/><stop offset="0.51562" stop-color="#38b99e"/><stop offset="0.51562" stop-color="#42bb98"/><stop offset="0.53125" stop-color="#42bb98"/><stop offset="0.53125" stop-color="#4dbc92"/><stop offset="0.54688" stop-color="#4dbc92"/><stop offset="0.54688" stop-color="#59bd8c"/><stop offset="0.56250" stop-color="#59bd8c"/><stop offset="0.56250" stop-color="#65be86"/><stop offset="0.57812" stop-color="#65be86"/><stop offset="0.57812" stop-color="#71bf80"/><stop offset="0.59375" stop-color="#71bf80"/><stop offset="0.59375" stop-color="#7cbf7b"/><stop offset="0.60938" stop-color="#7cbf7b"/><stop offset="0.60938" stop-color="#87bf77"/><stop offset="0.62500" stop-color="#87bf77"/><stop offset="0.62500" stop-color="#92bf73"/><stop offset="0.64062" stop-color="#92bf73"/><stop offset="0.64062" stop-color="#9cbf6f"/><stop offset="0.65625" stop-color="#9cbf6f"/><stop offset="0.65625" stop-color="#a5be6b"/><stop offset="0.67188" stop-color="#a5be6b"/><stop offset="0.67188" stop-color="#aebe67"/><stop offset="0.68750" stop-color="#aebe67"/><stop offset="0.68750" stop-color="#b7bd64"/><stop offset="0.70312" stop-color="#b7bd64"/><stop offset="0.70312" stop-color="#c0bc60"/><stop offset="0.71875" stop-color="#c0bc60"/><stop offset="0.71875" stop-color="#c8bc5d"/><stop offset="0.73438" stop-color="#c8bc5d"/><stop offset="0.73438" stop-color="#d1bb59"/><stop offset="0.75000" stop-color="#d1bb59"/><stop offset="0.75000" stop-color="#d9ba56"/><stop offset="0.76562" stop-color="#d9ba56"/><stop offset="0.76562" stop-color="#e1b952"/><stop offset="0.78125" stop-color="#e1b952"/><stop offset="0.78125" stop-color="#e9b94e"/><stop offset="0.79688" stop-color="#e9b94e"/><stop offset="0.79688" stop-color="#f1b94a"/><stop offset="0.81250" stop-color="#f1b94a"/><stop offset="0.81250" stop-color="#f8bb44"/><stop offset="0.82812" stop-color="#f8bb44"/><stop offset="0.82812" stop-color="#fdbe3d"/><stop offset="0.84375" stop-color="#fdbe3d"/><stop offset="0.84375" stop-color="#ffc337"/><stop offset="0.85938" stop-color="#ffc337"/><stop offset="0.85938" stop-color="#fec832"/><stop offset="0.87500" stop-color="#fec832"/><stop offset="0.87500" stop-color="#fcce2e"/><stop offset="0.89062" stop-color="#fcce2e"/><stop offset="0.89062" stop-color="#fad32a"/><stop offset="0.90625" stop-color="#fad32a"/><stop offset="0.90625" stop-color="#f7d826"/><stop offset="0.92188" stop-color="#f7d826"/><stop offset="0.92188" stop-color="#f5de21"/><stop offset="0.93750" stop-color="#f5de21"/><stop offset="0.93750" stop-color="#f5e41d"/><stop offset="0.95312" stop-color="#f5e41d"/><stop offset="0.95312" stop-color="#f5eb18"/><stop offset="0.96875" stop-color="#f5eb18"/><stop offset="0.96875" stop-color="#f6f313"/><stop offset="0.98438" stop-color="#f6f313"/><stop offset="0.98438" stop-color="#f9fb0e"/><stop offset="1.00000" stop-color="#f9fb0e"/></linearGradient>
<linearGradient id="cd" gradientUnits="userSpaceOnUse" x1="0" y1="411.600" x2="0" y2="286.200"><stop offset="0.00000" stop-color="#352a87"/><stop offset="0.01562" stop-color="#352a87"/><stop offset="0.01562" stop-color="#363093"/><stop offset="0.03125" stop-color="#363093"/><stop offset="0.03125" stop-color="#3637a0"/><stop offset="0.04688" stop-color="#3637a0"/><stop offset="0.04688" stop-color="#353dad"/><stop offset="0.06250" stop-color="#353dad"/><stop offset="0.06250" stop-color="#3243ba"/><stop offset="0.07812" stop-color="#3243ba"/><stop offset="0.07812" stop-color="#2c4ac7"/><stop offset="0.09375" stop-color="#2c4ac7"/><stop offset="0.09375" stop-color="#2053d4"/><stop offset="0.10938" stop-color="#2053d4"/><stop offset="0.10938" stop-color="#0f5cdd"/><stop offset="0.12500" stop-color="#0f5cdd"/><stop offset="0.12500" stop-color="#0363e1"/><stop offset="0.14062" stop-color="#0363e1"/><stop offset="0.14062" stop-color="#0268e1"/><stop offset="0.15625" stop-color="#0268e1"/><stop offset="0.15625" stop-color="#046de0"/><stop offset="0.17188" stop-color="#046de0"/><stop offset="0.17188" stop-color="#0871de"/><stop offset="0.18750" stop-color="#0871de"/><stop offset="0.18750" stop-color="#0d75dc"/><stop offset="0.20312" stop-color="#0d75dc"/><stop offset="0.20312" stop-color="#1079da"/><stop offset="0.21875" stop-color="#1079da"/><stop offset="0.21875" stop-color="#127dd8"/><stop offset="0.23438" stop-color="#127dd8"/><stop offset="0.23438" stop-color="#1481d6"/><stop offset="0.25000" stop-color="#1481d6"/><stop offset="0.25000" stop-color="#1485d4"/><stop offset="0.26562" stop-color="#1485d4"/><stop offset="0.26562" stop-color="#1389d3"/><stop offset="0.28125" stop-color="#1389d3"/><stop offset="0.28125" stop-color="#108ed2"/><stop offset="0.29688" stop-color="#108ed2"/><stop offset="0.29688" stop-color="#0c93d2"/><stop offset="0.31250" stop-color="#0c93d2"/><stop offset="0.31250" stop-color="#0998d1"/><stop offset="0.32812" stop-color="#0998d1"/><stop offset="0.32812" stop-color="#079ccf"/><stop offset="0.34375" stop-color="#079ccf"/><stop offset="0.34375" stop-color="#06a0cd"/><stop offset="0.35938" stop-color="#06a0cd"/><stop offset="0.35938" stop-color="#06a4ca"/><stop offset="0.37500" stop-color="#06a4ca"/><stop offset="0.37500" stop-color="#06a7c6"/><stop offset="0.39062" stop-color="#06a7c6"/><stop offset="0.39062" stop-color="#07a9c2"/><stop offset="0.40625" stop-color="#07a9c2"/><stop offset="0.40625" stop-color="#0aacbe"/><stop offset="0.42188" stop-color="#0aacbe"/><stop offset="0.42188" stop-color="#0faeb9"/><stop offset="0.43750" stop-color="#0faeb9"/><stop offset="0.43750" stop-color="#15b1b4"/><stop offset="0.45312" stop-color="#15b1b4"/><stop offset="0.45312" stop-color="#1db3af"/><stop offset="0.46875" stop-color="#1db3af"/><stop offset="0.46875" stop-color="#25b5a9"/><stop offset="0.48438" stop-color="#25b5a9"/><stop offset="0.48438" stop-color="#2eb7a4"/><stop offset="0.50000" stop-color="#2eb7a4"/><stop offset="0.50000" stop-color="#38b99e"/><stop offset="0.51562" stop-color="#38b99e"/><stop offset="0.51562" stop-color="#42bb98"/><stop offset="0.53125" stop-color="#42bb98"/><stop offset="0.53125" stop-color="#4dbc92"/><stop offset="0.54688" stop-color="#4dbc92"/><stop offset="0.54688" stop-color="#59bd8c"/><stop offset="0.56250" stop-color="#59bd8c"/><stop offset="0.56250" stop-color="#65be86"/><stop offset="0.57812" stop-color="#65be86"/><stop offset="0.57812" stop-color="#71bf80"/><stop offset="0.59375" stop-color="#71bf80"/><stop offset="0.59375" stop-color="#7cbf7b"/><stop offset="0.60938" stop-color="#7cbf7b"/><stop offset="0.60938" stop-color="#87bf77"/><stop offset="0.62500" stop-color="#87bf77"/><stop offset="0.62500" stop-color="#92bf73"/><stop offset="0.64062" stop-color="#92bf73"/><stop offset="0.64062" stop-color="#9cbf6f"/><stop offset="0.65625" stop-color="#9cbf6f"/><stop offset="0.65625" stop-color="#a5be6b"/><stop offset="0.67188" stop-color="#a5be6b"/><stop offset="0.67188" stop-color="#aebe67"/><stop offset="0.68750" stop-color="#aebe67"/><stop offset="0.68750" stop-color="#b7bd64"/><stop offset="0.70312" stop-color="#b7bd64"/><stop offset="0.70312" stop-color="#c0bc60"/><stop offset="0.71875" stop-color="#c0bc60"/><stop offset="0.71875" stop-color="#c8bc5d"/><stop offset="0.73438" stop-color="#c8bc5d"/><stop offset="0.73438" stop-color="#d1bb59"/><stop offset="0.75000" stop-color="#d1bb59"/><stop offset="0.75000" stop-color="#d9ba56"/><stop offset="0.76562" stop-color="#d9ba56"/><stop offset="0.76562" stop-color="#e1b952"/><stop offset="0.78125" stop-color="#e1b952"/><stop offset="0.78125" stop-color="#e9b94e"/><stop offset="0.79688" stop-color="#e9b94e"/><stop offset="0.79688" stop-color="#f1b94a"/><stop offset="0.81250" stop-color="#f1b94a"/><stop offset="0.81250" stop-color="#f8bb44"/><stop offset="0.82812" stop-color="#f8bb44"/><stop offset="0.82812" stop-color="#fdbe3d"/><stop offset="0.84375" stop-color="#fdbe3d"/><stop offset="0.84375" stop-color="#ffc337"/><stop offset="0.85938" stop-color="#ffc337"/><stop offset="0.85938" stop-color="#fec832"/><stop offset="0.87500" stop-color="#fec832"/><stop offset="0.87500" stop-color="#fcce2e"/><stop offset="0.89062" stop-color="#fcce2e"/><stop offset="0.89062" stop-color="#fad32a"/><stop offset="0.90625" stop-color="#fad32a"/><stop offset="0.90625" stop-color="#f7d826"/><stop offset="0.92188" stop-color="#f7d826"/><stop offset="0.92188" stop-color="#f5de21"/><stop offset="0.93750" stop-color="#f5de21"/><stop offset="0.93750" stop-color="#f5e41d"/><stop offset="0.95312" stop-color="#f5e41d"/><stop offset="0.95312" stop-color="#f5eb18"/><stop offset="0.96875" stop-color="#f5eb18"/><stop offset="0.96875" stop-color="#f6f313"/><stop offset="0.98438" stop-color="#f6f313"/><stop offset="0.98438" stop-color="#f9fb0e"/><stop offset="1.00000" stop-color="#f9fb0e"/></linearGradient></defs>
<rect width="735" height="466" fill="#fff"/>
<g stroke="#e3e3e3" stroke-width="1"><line x1="100.08" y1="7.50" x2="100.08" y2="172.80"/><line x1="162.15" y1="7.50" x2="162.15" y2="172.80"/><line x1="224.23" y1="7.50" x2="224.23" y2="172.80"/><line x1="286.30" y1="7.50" x2="286.30" y2="172.80"/><line x1="38.00" y1="131.48" x2="286.30" y2="131.48"/><line x1="38.00" y1="90.15" x2="286.30" y2="90.15"/><line x1="38.00" y1="48.83" x2="286.30" y2="48.83"/><line x1="38.00" y1="7.50" x2="286.30" y2="7.50"/></g>
<rect x="65.93" y="40.56" width="192.43" height="99.18" fill="url(#ga)"/>
<g stroke="#3c3c3c" stroke-width="1" fill="none"><path d="M38.00 173.00v-2.50"/><path d="M38.00 172.80h2.50"/><path d="M100.08 173.00v-2.50"/><path d="M38.00 131.48h2.50"/><path d="M162.15 173.00v-2.50"/><path d="M38.00 90.15h2.50"/><path d="M224.23 173.00v-2.50"/><path d="M38.00 48.83h2.50"/><path d="M286.30 173.00v-2.50"/><path d="M38.00 7.50h2.50"/></g>
<g stroke="#4a4a4a" stroke-width="1.25" fill="none"><path d="M38.00 7.50V173.00H286.30"/></g>
<rect x="304.30" y="48.40" width="15.30" height="124.90" fill="url(#ca)" stroke="#3c3c3c" stroke-width="1"/>
<g stroke="#3c3c3c" stroke-width="1"><path d="M319.60 73.50h-2"/><path d="M319.60 110.90h-2"/><path d="M319.60 147.90h-2"/></g>
<g font-family="Liberation Sans" font-size="12.6" fill="#262626"><text transform="translate(38.00 192.55) scale(1 1.060)" text-anchor="middle">-4</text><text transform="translate(100.08 192.55) scale(1 1.060)" text-anchor="middle">-2</text><text transform="translate(162.15 192.55) scale(1 1.060)" text-anchor="middle">0</text><text transform="translate(224.23 192.55) scale(1 1.060)" text-anchor="middle">2</text><text transform="translate(286.30 192.55) scale(1 1.060)" text-anchor="middle">4</text><text transform="translate(32.00 178.35) scale(1 1.060)" text-anchor="end">-4</text><text transform="translate(32.00 137.03) scale(1 1.060)" text-anchor="end">-2</text><text transform="translate(32.00 95.70) scale(1 1.060)" text-anchor="end">0</text><text transform="translate(32.00 54.38) scale(1 1.060)" text-anchor="end">2</text><text transform="translate(32.00 13.05) scale(1 1.060)" text-anchor="end">4</text><text transform="translate(324.60 78.75) scale(1 1.060)">0.05</text><text transform="translate(324.60 116.15) scale(1 1.060)">0</text><text transform="translate(324.60 153.15) scale(1 1.060)">-0.05</text></g>
<g font-family="Liberation Serif" font-weight="bold" font-size="13.0" fill="#111111"><text x="290.60" y="27.80" font-size="12.2">In-plane</text><text x="290.60" y="42.00" font-size="12.2">Distortion (mm)</text><text x="162.00" y="209.00" text-anchor="middle">x (mm)</text><text x="162.70" y="227.60" text-anchor="middle">(a)</text><text x="14.20" y="90.50" text-anchor="middle" font-size="13.4" transform="rotate(-90 14.20 90.50)">y (mm)</text></g>
<g stroke="#e3e3e3" stroke-width="1"><line x1="453.30" y1="9.40" x2="453.30" y2="174.40"/><line x1="515.30" y1="9.40" x2="515.30" y2="174.40"/><line x1="577.30" y1="9.40" x2="577.30" y2="174.40"/><line x1="639.30" y1="9.40" x2="639.30" y2="174.40"/><line x1="391.30" y1="133.15" x2="639.30" y2="133.15"/><line x1="391.30" y1="91.90" x2="639.30" y2="91.90"/><line x1="391.30" y1="50.65" x2="639.30" y2="50.65"/><line x1="391.30" y1="9.40" x2="639.30" y2="9.40"/></g>
<rect x="419.20" y="42.40" width="192.20" height="99.00" fill="url(#gb)"/>
<g stroke="#3c3c3c" stroke-width="1" fill="none"><path d="M391.30 174.50v-2.50"/><path d="M391.50 174.40h2.50"/><path d="M453.30 174.50v-2.50"/><path d="M391.50 133.15h2.50"/><path d="M515.30 174.50v-2.50"/><path d="M391.50 91.90h2.50"/><path d="M577.30 174.50v-2.50"/><path d="M391.50 50.65h2.50"/><path d="M639.30 174.50v-2.50"/><path d="M391.50 9.40h2.50"/></g>
<g stroke="#333333" stroke-width="1.00" fill="none"><path d="M391.50 9.40V174.50H639.30"/></g>
<rect x="663.30" y="56.50" width="15.30" height="117.10" fill="url(#cb)" stroke="#3c3c3c" stroke-width="1"/>
<g stroke="#3c3c3c" stroke-width="1"><path d="M678.60 59.40h-2"/><path d="M678.60 87.40h-2"/><path d="M678.60 115.35h-2"/><path d="M678.60 143.30h-2"/><path d="M678.60 171.30h-2"/></g>
<path d="M680.50 44.20l5.4 5.2M685.90 44.20l-5.4 5.2" stroke="#8a8a8a" stroke-width="0.9" fill="none"/>
<g font-family="Liberation Sans" font-size="12.6" fill="#262626"><text transform="translate(391.30 194.15) scale(1 1.060)" text-anchor="middle">-4</text><text transform="translate(453.30 194.15) scale(1 1.060)" text-anchor="middle">-2</text><text transform="translate(515.30 194.15) scale(1 1.060)" text-anchor="middle">0</text><text transform="translate(577.30 194.15) scale(1 1.060)" text-anchor="middle">2</text><text transform="translate(639.30 194.15) scale(1 1.060)" text-anchor="middle">4</text><text transform="translate(385.30 179.95) scale(1 1.060)" text-anchor="end">-4</text><text transform="translate(385.30 138.70) scale(1 1.060)" text-anchor="end">-2</text><text transform="translate(385.30 97.45) scale(1 1.060)" text-anchor="end">0</text><text transform="translate(385.30 56.20) scale(1 1.060)" text-anchor="end">2</text><text transform="translate(385.30 14.95) scale(1 1.060)" text-anchor="end">4</text><text transform="translate(683.60 64.65) scale(1 1.060)">4</text><text transform="translate(683.60 92.65) scale(1 1.060)">2</text><text transform="translate(683.60 120.60) scale(1 1.060)">0</text><text transform="translate(683.60 148.55) scale(1 1.060)">-2</text><text transform="translate(683.60 176.55) scale(1 1.060)">-4</text><text transform="translate(701.10 49.85) scale(1 1.060)" text-anchor="end">10</text><text transform="translate(702.10 43.55) scale(1 1.060)" font-size="9.0">-4</text></g>
<g font-family="Liberation Serif" font-weight="bold" font-size="13.0" fill="#111111"><text x="645.60" y="19.70" font-size="12.2">In-plane</text><text x="645.60" y="34.30" font-size="12.2">Distortion (mm)</text><text x="515.30" y="209.20" text-anchor="middle">x (mm)</text><text x="516.70" y="227.40" text-anchor="middle">(b)</text><text x="370.00" y="93.30" text-anchor="middle" font-size="13.4" transform="rotate(-90 370.00 93.30)">y (mm)</text></g>
<g stroke="#e3e3e3" stroke-width="1"><line x1="98.85" y1="245.30" x2="98.85" y2="410.50"/><line x1="161.00" y1="245.30" x2="161.00" y2="410.50"/><line x1="223.15" y1="245.30" x2="223.15" y2="410.50"/><line x1="285.30" y1="245.30" x2="285.30" y2="410.50"/><line x1="36.70" y1="369.20" x2="285.30" y2="369.20"/><line x1="36.70" y1="327.90" x2="285.30" y2="327.90"/><line x1="36.70" y1="286.60" x2="285.30" y2="286.60"/><line x1="36.70" y1="245.30" x2="285.30" y2="245.30"/></g>
<rect x="64.67" y="278.34" width="192.67" height="99.12" fill="url(#gc)"/>
<g stroke="#3c3c3c" stroke-width="1" fill="none"><path d="M36.70 411.00v-2.50"/><path d="M37.10 410.50h2.50"/><path d="M98.85 411.00v-2.50"/><path d="M37.10 369.20h2.50"/><path d="M161.00 411.00v-2.50"/><path d="M37.10 327.90h2.50"/><path d="M223.15 411.00v-2.50"/><path d="M37.10 286.60h2.50"/><path d="M285.30 411.00v-2.50"/><path d="M37.10 245.30h2.50"/></g>
<g stroke="#4a4a4a" stroke-width="1.25" fill="none"><path d="M37.10 245.30V411.00H285.30"/></g>
<rect x="302.40" y="288.50" width="16.90" height="120.00" fill="url(#cc)" stroke="#3c3c3c" stroke-width="1"/>
<g stroke="#3c3c3c" stroke-width="1"><path d="M319.30 309.00h-2"/><path d="M319.30 348.50h-2"/><path d="M319.30 388.20h-2"/></g>
<path d="M321.10 275.80l5.4 5.2M326.50 275.80l-5.4 5.2" stroke="#8a8a8a" stroke-width="0.9" fill="none"/>
<g font-family="Liberation Sans" font-size="12.6" fill="#262626"><text transform="translate(36.70 430.25) scale(1 1.060)" text-anchor="middle">-4</text><text transform="translate(98.85 430.25) scale(1 1.060)" text-anchor="middle">-2</text><text transform="translate(161.00 430.25) scale(1 1.060)" text-anchor="middle">0</text><text transform="translate(223.15 430.25) scale(1 1.060)" text-anchor="middle">2</text><text transform="translate(285.30 430.25) scale(1 1.060)" text-anchor="middle">4</text><text transform="translate(30.70 416.05) scale(1 1.060)" text-anchor="end">-4</text><text transform="translate(30.70 374.75) scale(1 1.060)" text-anchor="end">-2</text><text transform="translate(30.70 333.45) scale(1 1.060)" text-anchor="end">0</text><text transform="translate(30.70 292.15) scale(1 1.060)" text-anchor="end">2</text><text transform="translate(30.70 250.85) scale(1 1.060)" text-anchor="end">4</text><text transform="translate(324.30 314.25) scale(1 1.060)">1</text><text transform="translate(324.30 353.75) scale(1 1.060)">0</text><text transform="translate(324.30 393.45) scale(1 1.060)">-1</text><text transform="translate(341.70 281.45) scale(1 1.060)" text-anchor="end">10</text><text transform="translate(342.70 275.15) scale(1 1.060)" font-size="9.0">-4</text></g>
<g font-family="Liberation Serif" font-weight="bold" font-size="13.0" fill="#111111"><text x="290.60" y="250.10" font-size="12.2">In-plane</text><text x="290.60" y="264.50" font-size="12.2">Distortion (mm)</text><text x="160.80" y="445.80" text-anchor="middle">x (mm)</text><text x="159.10" y="461.20" text-anchor="middle">(c)</text><text x="13.80" y="328.70" text-anchor="middle" font-size="13.4" transform="rotate(-90 13.80 328.70)">y (mm)</text></g>
<g stroke="#e3e3e3" stroke-width="1"><line x1="453.30" y1="247.40" x2="453.30" y2="412.40"/><line x1="515.30" y1="247.40" x2="515.30" y2="412.40"/><line x1="577.30" y1="247.40" x2="577.30" y2="412.40"/><line x1="639.30" y1="247.40" x2="639.30" y2="412.40"/><line x1="391.30" y1="371.15" x2="639.30" y2="371.15"/><line x1="391.30" y1="329.90" x2="639.30" y2="329.90"/><line x1="391.30" y1="288.65" x2="639.30" y2="288.65"/><line x1="391.30" y1="247.40" x2="639.30" y2="247.40"/></g>
<rect x="419.20" y="280.40" width="192.20" height="99.00" fill="url(#gd)"/>
<g stroke="#3c3c3c" stroke-width="1" fill="none"><path d="M391.30 412.50v-2.50"/><path d="M391.50 412.40h2.50"/><path d="M453.30 412.50v-2.50"/><path d="M391.50 371.15h2.50"/><path d="M515.30 412.50v-2.50"/><path d="M391.50 329.90h2.50"/><path d="M577.30 412.50v-2.50"/><path d="M391.50 288.65h2.50"/><path d="M639.30 412.50v-2.50"/><path d="M391.50 247.40h2.50"/></g>
<g stroke="#333333" stroke-width="1.00" fill="none"><path d="M391.50 247.40V412.50H639.30"/></g>
<rect x="664.50" y="286.20" width="16.60" height="125.40" fill="url(#cd)" stroke="#3c3c3c" stroke-width="1"/>
<g stroke="#3c3c3c" stroke-width="1"><path d="M681.10 290.60h-2"/><path d="M681.10 349.00h-2"/><path d="M681.10 407.60h-2"/></g>
<path d="M682.70 273.90l5.4 5.2M688.10 273.90l-5.4 5.2" stroke="#8a8a8a" stroke-width="0.9" fill="none"/>
<g font-family="Liberation Sans" font-size="12.6" fill="#262626"><text transform="translate(391.30 432.15) scale(1 1.060)" text-anchor="middle">-4</text><text transform="translate(453.30 432.15) scale(1 1.060)" text-anchor="middle">-2</text><text transform="translate(515.30 432.15) scale(1 1.060)" text-anchor="middle">0</text><text transform="translate(577.30 432.15) scale(1 1.060)" text-anchor="middle">2</text><text transform="translate(639.30 432.15) scale(1 1.060)" text-anchor="middle">4</text><text transform="translate(385.30 417.95) scale(1 1.060)" text-anchor="end">-4</text><text transform="translate(385.30 376.70) scale(1 1.060)" text-anchor="end">-2</text><text transform="translate(385.30 335.45) scale(1 1.060)" text-anchor="end">0</text><text transform="translate(385.30 294.20) scale(1 1.060)" text-anchor="end">2</text><text transform="translate(385.30 252.95) scale(1 1.060)" text-anchor="end">4</text><text transform="translate(686.10 295.85) scale(1 1.060)">5</text><text transform="translate(686.10 354.25) scale(1 1.060)">0</text><text transform="translate(686.10 412.85) scale(1 1.060)">-5</text><text transform="translate(703.30 279.55) scale(1 1.060)" text-anchor="end">10</text><text transform="translate(704.30 273.25) scale(1 1.060)" font-size="9.0">-7</text></g>
<g font-family="Liberation Serif" font-weight="bold" font-size="13.0" fill="#111111"><text x="647.20" y="250.80" font-size="12.2">In-plane</text><text x="647.20" y="265.00" font-size="12.2">Distortion (mm)</text><text x="518.80" y="445.50" text-anchor="middle">x (mm)</text><text x="515.90" y="460.60" text-anchor="middle">(d)</text><text x="369.60" y="330.30" text-anchor="middle" font-size="13.4" transform="rotate(-90 369.60 330.30)">y (mm)</text></g>
</svg>
</body></html>
